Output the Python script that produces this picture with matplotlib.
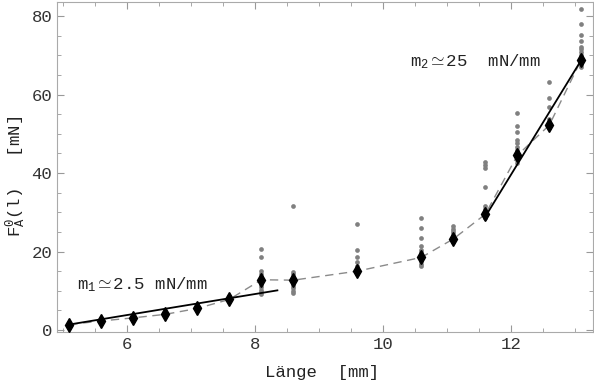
import matplotlib.pyplot as plt
from matplotlib.ticker import MultipleLocator

plt.rcParams['font.family'] = ['Liberation Mono', 'DejaVu Sans Mono']
plt.rcParams['mathtext.fontset'] = 'custom'
plt.rcParams['mathtext.rm'] = 'Liberation Mono'
plt.rcParams['mathtext.it'] = 'Liberation Mono'

# lengths [mm] and mean force [mN]
laenge = [5.1, 5.6, 6.1, 6.6, 7.1, 7.6, 8.1, 8.6, 9.6, 10.6, 11.1, 11.6, 12.1, 12.6, 13.1]
mittel = [1.4, 2.3, 3.1, 4.0, 5.5, 7.8, 12.8, 12.7, 15.0, 18.5, 23.2, 29.5, 44.5, 52.2, 68.9]

# single measurements per length
einzel = [
    [1.0, 1.3, 1.6],
    [2.0, 2.3, 2.6],
    [2.8, 3.1, 3.4],
    [3.7, 4.0, 4.4],
    [5.2, 5.5, 5.9],
    [7.4, 7.8, 8.2, 8.7],
    [20.7, 18.7, 15.0, 14.2, 13.5, 12.8, 12.0, 11.5, 11.0, 10.3, 9.6, 9.2],
    [31.5, 14.8, 14.2, 13.6, 13.0, 12.4, 11.8, 11.2, 10.6, 10.0, 9.4],
    [27.0, 20.3, 18.7, 17.4, 16.4, 15.5, 14.8, 14.2],
    [28.6, 26.1, 23.5, 21.4, 20.5, 19.8, 19.0, 18.3, 17.5, 16.8, 16.2],
    [26.5, 25.8, 25.2, 24.6, 24.0, 23.5, 23.0, 22.4],
    [42.8, 42.0, 41.2, 36.5, 31.5, 30.8, 30.2, 29.6, 29.0, 28.5],
    [55.2, 52.0, 50.5, 48.4, 47.6, 46.7, 45.9, 44.6, 43.3, 42.5],
    [63.1, 59.2, 56.9, 53.7, 53.0, 52.2, 51.4],
    [81.7, 78.0, 75.3, 73.7, 72.2, 71.5, 70.9, 70.1, 69.2, 68.4, 67.5, 67.1],
]

# linear fits
fit1_x = [5.1, 8.35]
fit1_y = [1.4, 10.1]
fit2_x = [11.6, 13.1]
fit2_y = [28.9, 68.8]

fig = plt.figure(figsize=(5.94, 3.86), dpi=100)
ax = fig.add_axes([0.096, 0.140, 0.902, 0.855])

for x, werte in zip(laenge, einzel):
    ax.plot([x] * len(werte), werte, 'o', color='#808080', markersize=3.4,
            markeredgewidth=0, zorder=2)

ax.plot(laenge, mittel, color='#8a8a8a', lw=1.0, dashes=(6, 4), zorder=3)
ax.plot(fit1_x, fit1_y, color='black', lw=1.3, zorder=4)
ax.plot(fit2_x, fit2_y, color='black', lw=1.3, zorder=4)
ax.plot(laenge, mittel, 'd', color='black', markersize=6.8, zorder=5)

ax.text(5.22, 11.5, r'm$_1$$\simeq$2.5 mN/mm', fontsize=12.5, color='#222222', va='center')
ax.text(10.42, 68.5, r'm$_2$$\simeq$25  mN/mm', fontsize=12.5, color='#222222', va='center')

ax.set_xlim(4.906, 13.28)
ax.set_ylim(-0.5, 83.6)
ax.xaxis.set_major_locator(MultipleLocator(2))
ax.xaxis.set_minor_locator(MultipleLocator(0.5))
ax.yaxis.set_major_locator(MultipleLocator(20))
ax.yaxis.set_minor_locator(MultipleLocator(5))
ax.tick_params(which='both', direction='in', top=True, right=True, color='#999999',
               labelsize=12.5, labelcolor='#333333')
ax.tick_params(which='major', length=5)
ax.tick_params(which='minor', length=3)
for s in ax.spines.values():
    s.set_color('#aaaaaa')

ax.set_xlabel('Länge  [mm]', fontsize=12.5, color='#222222')
ax.set_ylabel(r'F$_\mathrm{A}^\mathrm{0}$(l)   [mN]', fontsize=12.5, color='#222222', va='center')
ax.yaxis.set_label_coords(-0.075, 0.47)
ax.xaxis.set_label_coords(0.494, -0.10)

fig.savefig('out.png', dpi=100)
